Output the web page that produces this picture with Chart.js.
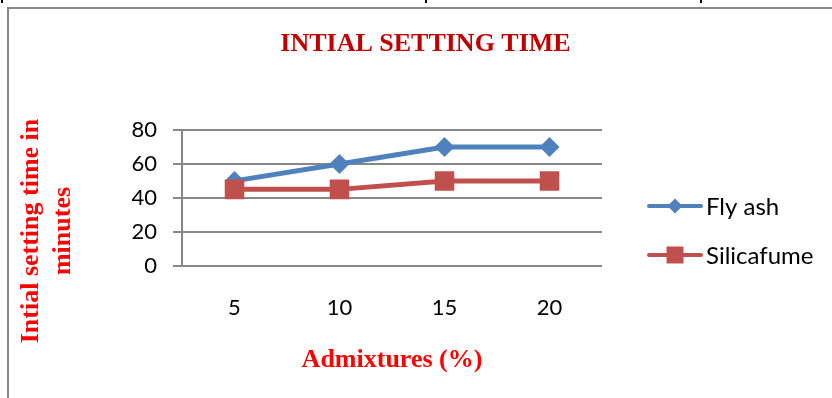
<!DOCTYPE html>
<html>
<head>
<meta charset="utf-8">
<script src="https://cdn.jsdelivr.net/npm/chart.js@4/dist/chart.umd.min.js"></script>
<style>
  html, body { margin: 0; padding: 0; background: #ffffff; }
  #wrap { width: 832px; height: 398px; }
</style>
</head>
<body>
<div id="wrap"><canvas id="c" width="832" height="398"></canvas></div>
<script>
// Admixture dosage (%) on the category axis
const categories = ['5', '10', '15', '20'];
// Initial setting time in minutes
const flyAsh = [50, 60, 70, 70];
const silicaFume = [45, 45, 50, 50];
const yTicks = [0, 20, 40, 60, 80];
const seriesNames = ['Fly ash', 'Silicafume'];

const GRID = '#878787';
const BLUE = '#4F81BD';
const RED = '#C0504D';
const SANS = 'Lato, "Noto Sans", sans-serif';
const SERIF = '"Liberation Serif", "Times New Roman", serif';

function drawMarker(ctx, style, x, y, r) {
  ctx.beginPath();
  if (style === 'rectRot') {
    ctx.moveTo(x, y - r);
    ctx.lineTo(x + r, y);
    ctx.lineTo(x, y + r);
    ctx.lineTo(x - r, y);
  } else {
    const s = r * Math.SQRT2;
    ctx.rect(x - s / 2, y - s / 2, s, s);
  }
  ctx.closePath();
  ctx.fill();
}

// White page, frame and the vertical axis title
const framePlugin = {
  id: 'frame',
  beforeDraw(chart) {
    const ctx = chart.ctx;
    ctx.save();
    ctx.fillStyle = '#ffffff';
    ctx.fillRect(0, 0, chart.width, chart.height);
    ctx.fillStyle = GRID;
    ctx.fillRect(7, 7, chart.width - 7, 2);
    ctx.fillRect(7, 7, 2, chart.height - 7);
    ctx.fillStyle = '#000000';
    [1, 425, 700].forEach(x => ctx.fillRect(x, 0, 2, 3));
    ctx.restore();
  },
  afterDraw(chart) {
    const ctx = chart.ctx;
    ctx.save();
    ctx.translate(31, 231);
    ctx.rotate(-Math.PI / 2);
    ctx.fillStyle = '#FF0000';
    ctx.font = 'bold 26px ' + SERIF;
    ctx.textAlign = 'center';
    ctx.textBaseline = 'middle';
    ctx.fillText('Intial setting time in', 0, 0);
    ctx.fillText('minutes', 0, 32);
    ctx.restore();
  }
};

// Legend on the right: line with its marker, then the series name
const sideLegend = {
  id: 'sideLegend',
  afterDraw(chart) {
    const ctx = chart.ctx;
    ctx.save();
    chart.data.datasets.forEach((ds, i) => {
      const y = 206 + i * 49;
      ctx.strokeStyle = ds.borderColor;
      ctx.lineWidth = 4;
      ctx.lineCap = 'round';
      ctx.beginPath();
      ctx.moveTo(649, y);
      ctx.lineTo(701, y);
      ctx.stroke();
      ctx.fillStyle = ds.borderColor;
      drawMarker(ctx, ds.pointStyle, 675, y, ds.legendRadius);
      ctx.fillStyle = '#000000';
      ctx.font = '24px ' + SANS;
      ctx.textAlign = 'left';
      ctx.textBaseline = 'middle';
      ctx.fillText(ds.label, 706, y + 1);
    });
    ctx.restore();
  }
};

new Chart(document.getElementById('c'), {
  type: 'line',
  data: {
    labels: categories,
    datasets: [
      {
        label: seriesNames[0],
        data: flyAsh,
        order: 1,
        borderColor: BLUE,
        backgroundColor: BLUE,
        borderWidth: 5,
        pointStyle: 'rectRot',
        pointRadius: 10,
        pointHoverRadius: 10,
        pointBackgroundColor: BLUE,
        pointBorderColor: BLUE,
        pointBorderWidth: 0,
        legendRadius: 7.5,
        tension: 0
      },
      {
        label: seriesNames[1],
        data: silicaFume,
        order: 0,
        borderColor: RED,
        backgroundColor: RED,
        borderWidth: 5,
        pointStyle: 'rect',
        pointRadius: 13.8,
        pointHoverRadius: 13.8,
        pointBackgroundColor: RED,
        pointBorderColor: RED,
        pointBorderWidth: 0,
        legendRadius: 12,
        tension: 0
      }
    ]
  },
  options: {
    responsive: false,
    animation: false,
    events: [],
    layout: { padding: { top: 0, left: 19, right: 0, bottom: 0 } },
    plugins: {
      legend: { display: false },
      tooltip: { enabled: false },
      title: {
        display: true,
        text: 'INTIAL SETTING TIME',
        color: '#C00000',
        font: { family: SERIF, size: 26, weight: 'bold', lineHeight: 1.2 },
        padding: { top: 28.4, bottom: 70.4 }
      }
    },
    scales: {
      x: {
        type: 'category',
        offset: true,
        grid: { display: false, drawTicks: false },
        border: { display: false },
        ticks: { color: '#000000', font: { family: SANS, size: 22 }, padding: 29, maxRotation: 0 },
        title: {
          display: true,
          text: 'Admixtures (%)',
          color: '#FF0000',
          font: { family: SERIF, size: 26, weight: 'bold', lineHeight: 1.2 },
          padding: { top: 0, bottom: 22.4 }
        },
        afterFit(scale) { scale.height = 132.3; }
      },
      y: {
        min: 0,
        max: 80,
        grid: { color: GRID, lineWidth: 2, tickLength: 9, drawTicks: true },
        border: { display: true, color: GRID, width: 2 },
        ticks: { color: '#000000', font: { family: SANS, size: 22 }, padding: 16 },
        afterBuildTicks(scale) { scale.ticks = yTicks.map(v => ({ value: v })); },
        afterFit(scale) { scale.width = 163; }
      },
      // empty right-hand strip that holds the legend
      side: {
        type: 'linear',
        position: 'right',
        min: 0,
        max: 80,
        grid: { display: false, drawTicks: false },
        border: { display: false },
        ticks: { display: false },
        afterFit(scale) { scale.width = 230; }
      }
    }
  },
  plugins: [framePlugin, sideLegend]
});
</script>
</body>
</html>
